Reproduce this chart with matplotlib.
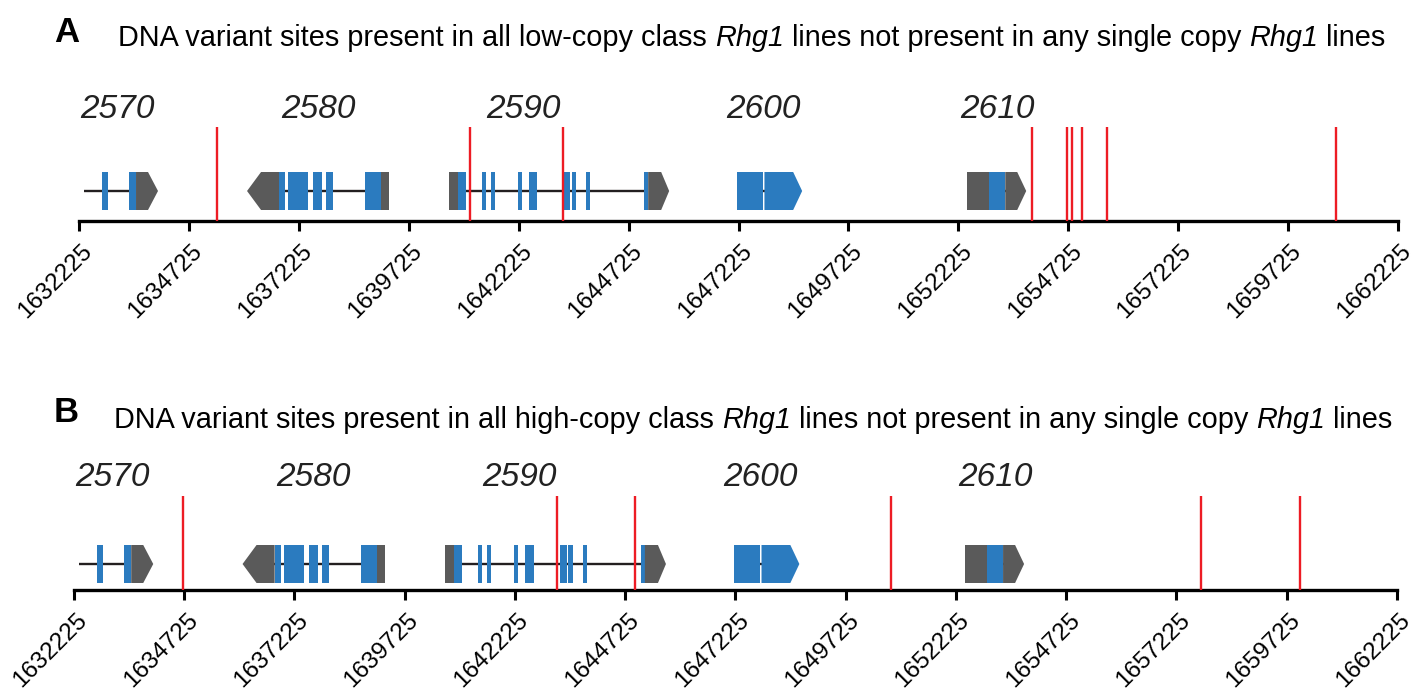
import matplotlib
matplotlib.use("Agg")
import matplotlib.pyplot as plt
from matplotlib.patches import Polygon
from matplotlib.transforms import ScaledTranslation, blended_transform_factory

plt.rcParams["font.family"] = ["Liberation Sans", "DejaVu Sans"]

# Genomic window and tick positions (bp)
X_START = 1632225
X_END = 1662225
TICKS = list(range(X_START, X_END + 1, 2500))

# Gene models: name, label position, strand, intron line span, and features
GENE_NAMES = ["2570", "2580", "2590", "2600", "2610"]
GENE_LABEL_X = [1633089, 1637662, 1642326, 1647786, 1653110]
GENE_STRAND = ["+", "-", "+", "+", "+"]
GENE_SPAN = [
    (1632339, 1633522),
    (1636388, 1639278),
    (1640643, 1645170),
    (1647195, 1648469),
    (1652427, 1653565),
]
# (start, end, kind) with kind "cds" (blue) or "utr" (grey)
GENE_FEATURES = [
    [(1632748, 1632885, "cds"), (1633363, 1633522, "cds"), (1633522, 1634022, "utr")],
    [(1636047, 1636775, "utr"), (1636775, 1636912, "cds"), (1636980, 1637435, "cds"),
     (1637549, 1637753, "cds"), (1637844, 1638004, "cds"), (1638732, 1639096, "cds"),
     (1639096, 1639278, "utr")],
    [(1640643, 1640847, "utr"), (1640847, 1641029, "cds"), (1641393, 1641484, "cds"),
     (1641598, 1641689, "cds"), (1642212, 1642303, "cds"), (1642463, 1642645, "cds"),
     (1643240, 1643395, "cds"), (1643430, 1643532, "cds"), (1643759, 1643850, "cds"),
     (1645079, 1645170, "cds"), (1645170, 1645648, "utr")],
    [(1647195, 1647790, "cds"), (1647815, 1648673, "cds")],
    [(1652427, 1652928, "utr"), (1652928, 1653292, "cds"), (1653292, 1653769, "utr")],
]

# Variant sites (bp)
VARIANTS_A = [1635365, 1641120, 1643236, 1653906, 1654702, 1654816,
              1655043, 1655612, 1660822]
VARIANTS_B = [1634690, 1643173, 1644942, 1650748, 1657779, 1660024]

# Titles as (text, italic) runs
TITLE_A = [("DNA variant sites present in all low-copy class ", False), ("Rhg1", True),
           (" lines not present in any single copy ", False), ("Rhg1", True),
           (" lines", False)]
TITLE_B = [("DNA variant sites present in all high-copy class ", False), ("Rhg1", True),
           (" lines not present in any single copy ", False), ("Rhg1", True),
           (" lines", False)]

# Style
BLUE = "#2b7bbf"
GREY = "#5a5a5a"
RED = "#ed1c24"
INK = "#231f20"
ARROW_PX = [10, 14, 8, 9, 9]
W, H = 1414, 692
DPI = 100


def draw_runs(fig, x_px, y_px, runs, size):
    """Draw a line of text made of plain/italic runs, left to right."""
    renderer = fig.canvas.get_renderer()
    x = x_px
    for text, italic in runs:
        t = fig.text(x / W, 1 - y_px / H, text, fontsize=size, ha="left",
                     va="baseline", style="italic" if italic else "normal")
        bb = t.get_window_extent(renderer)
        x += bb.width


def draw_panel(ax, variants, gene_mid):
    bp_per_px = (X_END - X_START) / (ax.get_position().width * W)
    half = 19
    ax.set_xlim(X_START, X_END)
    ax.set_ylim(0, 132)

    for x in variants:
        ax.plot([x, x], [0, 94], color=RED, lw=1.7, zorder=4, solid_capstyle="butt")

    for name, lx, strand, span, feats, apx in zip(
        GENE_NAMES, GENE_LABEL_X, GENE_STRAND, GENE_SPAN, GENE_FEATURES, ARROW_PX
    ):
        ax.plot(span, [gene_mid, gene_mid], color=INK, lw=1.7, zorder=2,
                solid_capstyle="butt")
        arrow = apx * bp_per_px
        lo, hi = gene_mid - half, gene_mid + half
        for i, (s, e, kind) in enumerate(feats):
            color = BLUE if kind == "cds" else GREY
            if strand == "+" and i == len(feats) - 1:
                pts = [(s, lo), (e - arrow, lo), (e, gene_mid), (e - arrow, hi), (s, hi)]
            elif strand == "-" and i == 0:
                pts = [(e, lo), (s + arrow, lo), (s, gene_mid), (s + arrow, hi), (e, hi)]
            else:
                pts = [(s, lo), (e, lo), (e, hi), (s, hi)]
            ax.add_patch(Polygon(pts, closed=True, facecolor=color,
                                 edgecolor="none", zorder=3))
        ax.text(lx, 112, name, ha="center", va="center", fontsize=24,
                style="italic", color="#222222")

    for side in ("top", "right", "left"):
        ax.spines[side].set_visible(False)
    ax.spines["bottom"].set_linewidth(2.4)
    ax.spines["bottom"].set_color("black")
    ax.spines["bottom"].set_capstyle("projecting")
    ax.set_yticks([])
    ax.set_xticks(TICKS)
    ax.set_xticklabels([])
    ax.tick_params(axis="x", direction="out", length=7, width=2.2, color="black")

    trans = blended_transform_factory(ax.transData, ax.transAxes)
    offset = ScaledTranslation(10 / DPI, -27 / DPI, ax.figure.dpi_scale_trans)
    for t in TICKS:
        ax.text(t, 0, str(t), transform=trans + offset, rotation=45,
                rotation_mode="anchor", ha="right", va="center", fontsize=17.5,
                color="black")


fig = plt.figure(figsize=(W / DPI, H / DPI), dpi=DPI)

ax_a = fig.add_axes([79 / W, (H - 221) / H, (1398 - 79) / W, 132 / H])
ax_a.patch.set_alpha(0)
draw_panel(ax_a, VARIANTS_A, gene_mid=30)

ax_b = fig.add_axes([74 / W, (H - 590) / H, (1397 - 74) / W, 132 / H])
ax_b.patch.set_alpha(0)
draw_panel(ax_b, VARIANTS_B, gene_mid=26)

fig.text(54 / W, 1 - 42 / H, "A", fontsize=25, fontweight="bold", ha="left",
         va="baseline")
draw_runs(fig, 118, 46, TITLE_A, 20.75)
fig.text(54 / W, 1 - 422 / H, "B", fontsize=25, fontweight="bold", ha="left",
         va="baseline")
draw_runs(fig, 114, 428, TITLE_B, 20.75)

fig.savefig("out.png", dpi=DPI)
